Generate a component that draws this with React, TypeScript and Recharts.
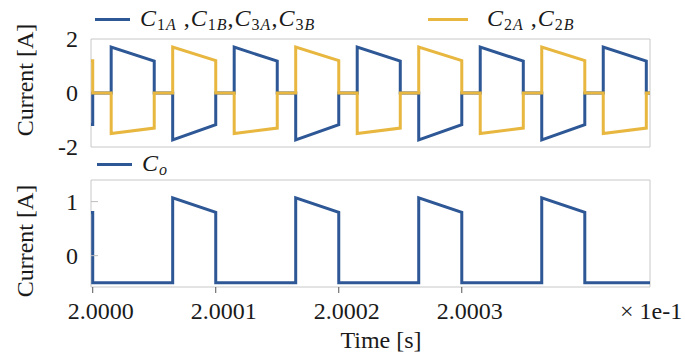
import React from 'react'
import { LineChart, Line, XAxis, YAxis, ReferenceArea } from 'recharts'

// time axis in microseconds after t = 0.2 s (labels are shown in units of 1e-1 s)
const switchTimes = [
  -0.14, 0, 0, 1.5, 1.5, 5, 5, 6.5, 6.5, 10, 10, 11.5, 11.5, 15, 15, 16.5, 16.5, 20, 20,
  21.5, 21.5, 25, 25, 26.5, 26.5, 30, 30, 31.5, 31.5, 35, 35, 36.5, 36.5, 40, 40, 41.5,
  41.5, 45, 45, 45.3,
]
const c1c3Current = [
  -1.17, -1.17, 0, 0, 1.7, 1.18, 0, 0, -1.74, -1.17, 0, 0, 1.7, 1.18, 0, 0, -1.74, -1.17,
  0, 0, 1.7, 1.18, 0, 0, -1.74, -1.17, 0, 0, 1.7, 1.18, 0, 0, -1.74, -1.17, 0, 0, 1.7,
  1.18, 0, 0,
]
const c2Current = [
  1.19, 1.19, 0, 0, -1.5, -1.3, 0, 0, 1.7, 1.2, 0, 0, -1.5, -1.3, 0, 0, 1.7, 1.2, 0, 0,
  -1.5, -1.3, 0, 0, 1.7, 1.2, 0, 0, -1.5, -1.3, 0, 0, 1.7, 1.2, 0, 0, -1.5, -1.3, 0, 0,
]
const outTimes = [
  -0.14, 0, 0, 6.5, 6.5, 10, 10, 16.5, 16.5, 20, 20, 26.5, 26.5, 30, 30, 36.5, 36.5, 40,
  40, 45.3,
]
const coCurrent = [
  0.8, 0.8, -0.5, -0.5, 1.07, 0.8, -0.5, -0.5, 1.07, 0.8, -0.5, -0.5, 1.07, 0.8, -0.5,
  -0.5, 1.07, 0.8, -0.5, -0.5,
]

const xTicks = [0, 10, 20, 30]
const xTickLabels = ['2.0000', '2.0001', '2.0002', '2.0003']
const topYTicks = [-2, 0, 2]
const bottomYTicks = [0, 1]

const X_DOMAIN: [number, number] = [-0.14, 45.3]
const TOP_DOMAIN: [number, number] = [-2, 2]
const BOTTOM_DOMAIN: [number, number] = [-0.58, 1.4]

const BLUE = '#2e5796'
const YELLOW = '#e8b740'
const FRAME = '#c8c8c8'
const FONT = "'Liberation Serif', 'Times New Roman', Times, serif"

const phaseData = switchTimes.map((t, i) => ({ t, c13: c1c3Current[i], c2: c2Current[i] }))
const outData = outTimes.map((t, i) => ({ t, co: coCurrent[i] }))

function YTick(props: any) {
  const { x, y, payload, inner } = props
  return (
    <g>
      {inner && <line x1={x + 13} x2={x + 20} y1={y} y2={y} stroke="#bdbdbd" strokeWidth={1} />}
      <text x={x} y={y} dy="0.35em" textAnchor="end" fontSize={24} style={{ fontFamily: FONT }} fill="#1a1a1a">
        {payload.value}
      </text>
    </g>
  )
}

function XTick(props: any) {
  const { x, y, index } = props
  return (
    <text x={x + 8} y={y} dy="0.71em" textAnchor="middle" fontSize={24} style={{ fontFamily: FONT }} fill="#1a1a1a">
      {xTickLabels[index]}
    </text>
  )
}

function Sub({ children }: { children: React.ReactNode }) {
  return (
    <span style={{ fontSize: 16, position: 'relative', top: 4, letterSpacing: 1 }}>{children}</span>
  )
}

function LegendItem({ left, top, color, lineWidth = 35, gap = 10, children }: any) {
  return (
    <div style={{ position: 'absolute', left, top, display: 'flex', alignItems: 'center', whiteSpace: 'nowrap' }}>
      <div style={{ width: lineWidth, height: 3.5, background: color, marginRight: gap }} />
      <div style={{ fontFamily: FONT, fontSize: 24, color: '#1a1a1a', lineHeight: '24px', letterSpacing: 1 }}>
        {children}
      </div>
    </div>
  )
}

export default function App() {
  return (
    <div style={{ position: 'absolute', left: 0, top: 0, width: 685, height: 356, background: '#fff', overflow: 'hidden', fontFamily: FONT }}>
      <div style={{ position: 'absolute', left: 0, top: 0 }}>
        <LineChart width={685} height={160} data={phaseData} margin={{ top: 39, right: 35, bottom: 13, left: 31 }}>
          <XAxis dataKey="t" type="number" domain={X_DOMAIN} allowDataOverflow hide />
          <YAxis
            type="number"
            domain={TOP_DOMAIN}
            ticks={topYTicks}
            width={60}
            axisLine={false}
            tickLine={false}
            tickSize={0}
            tickMargin={13}
            tick={<YTick />}
          />
          <ReferenceArea x1={X_DOMAIN[0]} x2={X_DOMAIN[1]} y1={TOP_DOMAIN[0]} y2={TOP_DOMAIN[1]} fill="none" stroke={FRAME} />
          <Line dataKey="c13" type="linear" stroke={BLUE} strokeWidth={3} dot={false} strokeLinejoin="miter" isAnimationActive={false} />
          <Line dataKey="c2" type="linear" stroke={YELLOW} strokeWidth={3} dot={false} strokeLinejoin="miter" isAnimationActive={false} />
        </LineChart>
      </div>

      <div style={{ position: 'absolute', left: 0, top: 160 }}>
        <LineChart width={685} height={196} data={outData} margin={{ top: 20, right: 35, bottom: 9, left: 31 }}>
          <XAxis
            dataKey="t"
            type="number"
            domain={X_DOMAIN}
            allowDataOverflow
            ticks={xTicks}
            height={60}
            axisLine={false}
            tickSize={6}
            tickMargin={9}
            tickLine={{ stroke: '#555' }}
            tick={<XTick />}
          />
          <YAxis
            type="number"
            domain={BOTTOM_DOMAIN}
            allowDataOverflow
            ticks={bottomYTicks}
            width={60}
            axisLine={false}
            tickLine={false}
            tickSize={0}
            tickMargin={13}
            tick={<YTick inner />}
          />
          <ReferenceArea x1={X_DOMAIN[0]} x2={X_DOMAIN[1]} y1={BOTTOM_DOMAIN[0]} y2={BOTTOM_DOMAIN[1]} fill="none" stroke={FRAME} />
          <Line dataKey="co" type="linear" stroke={BLUE} strokeWidth={3} dot={false} strokeLinejoin="miter" isAnimationActive={false} />
        </LineChart>
      </div>

      <LegendItem left={95} top={6} color={BLUE}>
        <i>C</i><Sub>1<i>A</i></Sub> ,<i>C</i><Sub>1<i>B</i></Sub>,<i>C</i><Sub>3<i>A</i></Sub>,<i>C</i><Sub>3<i>B</i></Sub>
      </LegendItem>
      <LegendItem left={428} top={6} color={YELLOW} lineWidth={40} gap={19}>
        <i>C</i><Sub>2<i>A</i></Sub> ,<i>C</i><Sub>2<i>B</i></Sub>
      </LegendItem>
      <LegendItem left={97} top={151} color={BLUE}>
        <i>C</i><Sub><i>o</i></Sub>
      </LegendItem>

      <svg width={685} height={356} style={{ position: 'absolute', left: 0, top: 0, pointerEvents: 'none' }}>
        <g fontSize={24} fill="#1a1a1a" style={{ fontFamily: FONT }}>
          <text transform="translate(25,80) rotate(-90)" textAnchor="middle" dy="0.35em">Current [A]</text>
          <text transform="translate(25,241) rotate(-90)" textAnchor="middle" dy="0.35em">Current [A]</text>
          <text x={381} y={348} textAnchor="middle">Time [s]</text>
          <text x={620} y={319}>× 1e-1</text>
        </g>
      </svg>
    </div>
  )
}
